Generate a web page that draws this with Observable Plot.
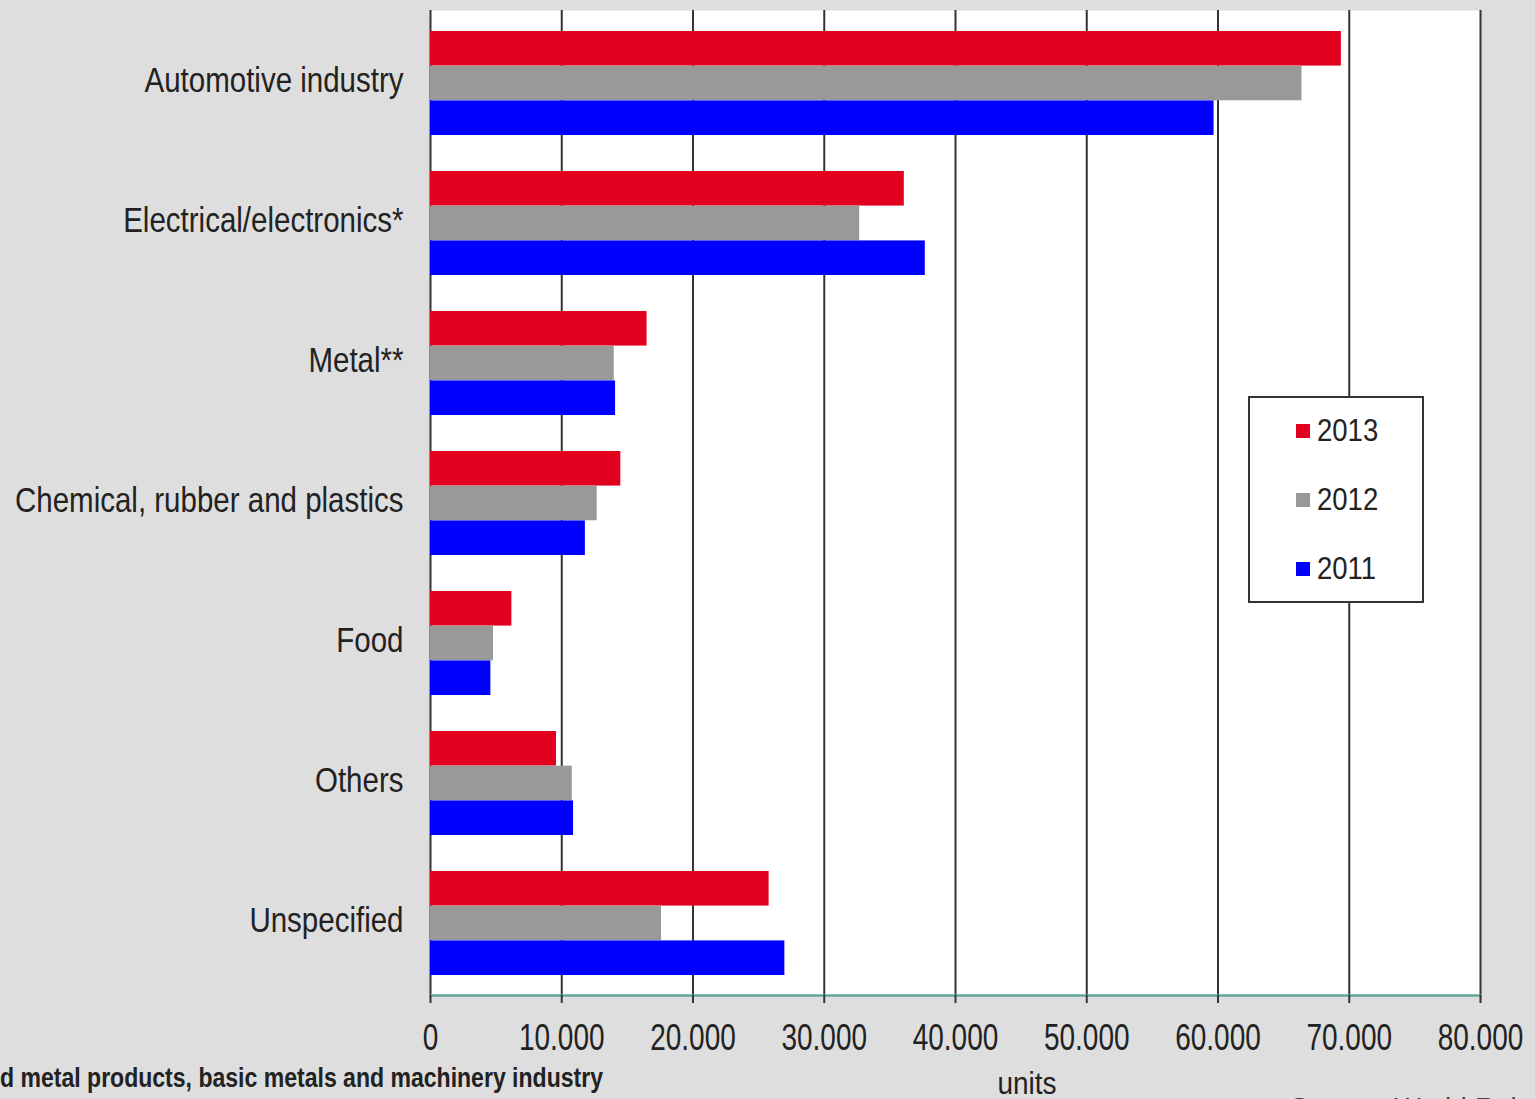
<!DOCTYPE html>
<html>
<head>
<meta charset="utf-8">
<script src="https://cdn.jsdelivr.net/npm/d3@7"></script>
<script src="https://cdn.jsdelivr.net/npm/@observablehq/plot@0.6"></script>
<style>
  html, body { margin: 0; padding: 0; background: #dedede; width: 1535px; height: 1099px; overflow: hidden; }
  #wrap { position: relative; width: 1535px; height: 1099px; font-family: "Liberation Sans", Arial, sans-serif; color: #222; }
  #chart { position: absolute; left: 0; top: 0; }
  #legend { position: absolute; left: 1248px; top: 396px; width: 172px; height: 203px; background: #fff; border: 2px solid #333; }
  .li { position: absolute; left: 46px; display: flex; align-items: center; font-size: 27.5px; line-height: 1; }
  .li .t { display: inline-block; transform: scaleY(1.15); }
  .sw { width: 14px; height: 14px; margin-right: 7px; }
  #units { position: absolute; left: 927px; width: 200px; text-align: center; top: 1070px; font-size: 28px; line-height: 1; transform: scaleY(1.15); }
  #foot { position: absolute; left: 0; top: 1064px; font-size: 28px; line-height: 1; font-weight: bold; white-space: nowrap; transform-origin: 0 50%; }
  #source { position: absolute; left: 1290px; top: 1094px; font-size: 28px; line-height: 1; white-space: nowrap; color: #444; }
</style>
</head>
<body>
<div id="wrap">
  <div id="chart"></div>
  <div id="legend"></div>
  <div id="units"></div>
  <div id="foot"></div>
  <div id="source"></div>
</div>
<script>
const categories = ["Automotive industry", "Electrical/electronics*", "Metal**", "Chemical, rubber and plastics", "Food", "Others", "Unspecified"];
const years = ["2013", "2012", "2011"];
const values2013 = [69400, 36100, 16500, 14500, 6200, 9600, 25800];
const values2012 = [66400, 32700, 14000, 12700, 4800, 10800, 17600];
const values2011 = [59700, 37700, 14100, 11800, 4600, 10900, 27000];
const xTicks = [0, 10000, 20000, 30000, 40000, 50000, 60000, 70000, 80000];
const colors = ["#e2001f", "#999999", "#0000ff"];
const xLabel = "units";
const footnote = "d metal products, basic metals and machinery industry";
const sourceText = "Source: World Robotics";

const W = 1535, H = 1065, mT = 10, mB = 70, mL = 430, mR = 55;
const pIn = 0.26, pOut = 0.13;
const step = (H - mT - mB) / (categories.length - pIn + 2 * pOut);
const bw = step * (1 - pIn);
const third = bw / 3;

const rows = (vals) => categories.map((c, i) => ({category: c, value: vals[i]}));
const fmt = d => d3.format(",")(d).replace(/,/g, ".");
const font = "\"Liberation Sans\", Arial, sans-serif";

const chart = Plot.plot({
  width: W, height: H,
  marginTop: mT, marginBottom: mB, marginLeft: mL, marginRight: mR,
  style: {background: "transparent", fontFamily: font, color: "#222"},
  x: {domain: [0, 80000], ticks: xTicks, tickFormat: fmt, label: null},
  y: {domain: categories, paddingInner: pIn, paddingOuter: pOut, label: null},
  marks: [
    Plot.frame({fill: "white", stroke: null}),
    Plot.ruleX(xTicks, {stroke: "#333", strokeWidth: 2}),
    Plot.barX(rows(values2013), {x: "value", y: "category", fill: colors[0], insetBottom: 2 * third}),
    Plot.barX(rows(values2012), {x: "value", y: "category", fill: colors[1], insetTop: third, insetBottom: third}),
    Plot.barX(rows(values2011), {x: "value", y: "category", fill: colors[2], insetTop: 2 * third}),
    Plot.frame({anchor: "bottom", stroke: "#5fa89a", strokeWidth: 2.5}),
    Plot.axisX({ticks: xTicks, tickFormat: fmt, tickSize: 8, tickPadding: 21, stroke: "#333", strokeWidth: 2, fontSize: 28, fill: "#222", label: null}),
    Plot.axisY({tickSize: 0, tickPadding: 27, fontSize: 29.5, fill: "#222", dy: -3, label: null})
  ]
});
document.getElementById("chart").appendChild(chart);

// stretch the axis labels vertically, as in the reference's tall glyphs
function stretch(sel, k) {
  chart.querySelectorAll(sel).forEach(t => {
    let tr = t.getAttribute("transform");
    if (!tr) {
      const x = +t.getAttribute("x") || 0, y = +t.getAttribute("y") || 0;
      t.removeAttribute("x"); t.removeAttribute("y");
      tr = `translate(${x},${y})`;
    }
    t.setAttribute("transform", tr + ` scale(1,${k})`);
  });
}
stretch('g[aria-label="y-axis tick label"] text', 1.2);
stretch('g[aria-label="x-axis tick label"] text', 1.3);

const legend = document.getElementById("legend");
const tops = [19, 88, 157];
years.forEach((y, i) => {
  const d = document.createElement("div");
  d.className = "li";
  d.style.top = tops[i] + "px";
  d.innerHTML = `<span class="sw" style="background:${colors[i]}"></span><span class="t">${y}</span>`;
  legend.appendChild(d);
});
document.getElementById("units").textContent = xLabel;
const foot = document.getElementById("foot");
foot.textContent = footnote;
const fw = foot.getBoundingClientRect().width;
foot.style.transform = `scale(${603 / fw}, 1)`;
document.getElementById("source").textContent = sourceText;
</script>
</body>
</html>
